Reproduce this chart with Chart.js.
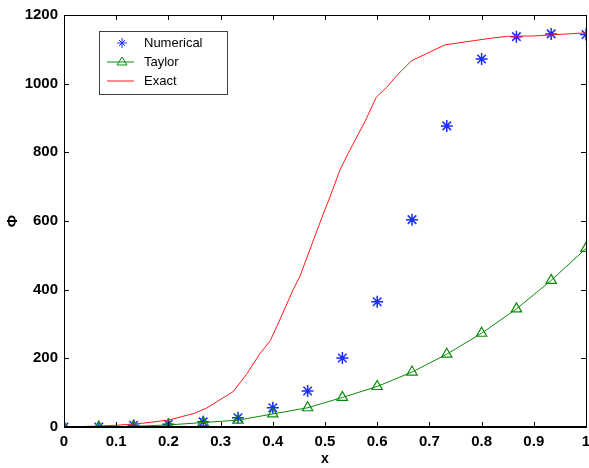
<!DOCTYPE html>
<html>
<head>
<meta charset="utf-8">
<script src="https://cdn.jsdelivr.net/npm/chart.js@4/dist/chart.umd.min.js"></script>
<style>
  html, body { margin: 0; padding: 0; background: #fff; }
  #wrap { width: 589px; height: 468px; }
</style>
</head>
<body>
<div id="wrap"><canvas id="chart" width="589" height="468"></canvas></div>
<script>
// Datos
const gridX = [0, 0.0667, 0.1333, 0.2, 0.2667, 0.3333, 0.4, 0.4667, 0.5333, 0.6, 0.6667, 0.7333, 0.8, 0.8667, 0.9333, 1.0];
const numerical = [0, 0, 5, 8, 15, 27, 56, 105, 201, 365, 604, 877, 1072, 1137, 1145, 1143];
const taylor = [0, 0, 2, 6, 13, 20, 38, 56, 86, 118, 160, 212, 273, 344, 427, 520];

const exactX = [0, 0.05, 0.1, 0.15, 0.2, 0.25, 0.273, 0.324, 0.35, 0.375, 0.395, 0.414, 0.439, 0.452, 0.479, 0.494, 0.51, 0.529, 0.545, 0.577, 0.598, 0.618, 0.637, 0.666, 0.695, 0.73, 0.784, 0.816, 0.85, 0.9, 1.0];
const exact = [0, 2, 5, 11, 20, 40, 55, 103, 154, 213, 251, 314, 400, 439, 549, 610, 672, 750, 799, 891, 960, 989, 1023, 1067, 1088, 1113, 1125, 1132, 1138, 1139, 1148];

const xTicks = [0, 0.1, 0.2, 0.3, 0.4, 0.5, 0.6, 0.7, 0.8, 0.9, 1];
const yTicks = [0, 200, 400, 600, 800, 1000, 1200];

const FONT = '"Liberation Sans", Arial, sans-serif';
const BLUE = '#1a2cff';
const GREEN = '#0a8a0a';
const RED = '#ff1a1a';

function toPoints(xs, ys) {
  return xs.map((x, i) => ({ x: x, y: ys[i] }));
}

// Marco con marcas hacia dentro en los cuatro lados
const boxTicks = {
  id: 'boxTicks',
  afterDraw(chart) {
    const ctx = chart.ctx;
    const a = chart.chartArea;
    const sx = chart.scales.x, sy = chart.scales.y;
    ctx.save();
    ctx.strokeStyle = '#000';
    ctx.lineWidth = 1;
    ctx.strokeRect(a.left + 0.5, a.top + 0.5, a.right - a.left, a.bottom - a.top);
    ctx.lineWidth = 2;
    ctx.beginPath();
    ctx.moveTo(a.left, a.bottom);
    ctx.lineTo(a.right + 1, a.bottom);
    ctx.stroke();
    ctx.lineWidth = 1;
    ctx.beginPath();
    xTicks.forEach(v => {
      const px = Math.round(sx.getPixelForValue(v)) + 0.5;
      ctx.moveTo(px, a.bottom);
      ctx.lineTo(px, a.bottom - 5);
      ctx.moveTo(px, a.top);
      ctx.lineTo(px, a.top + 5);
    });
    yTicks.forEach(v => {
      const py = Math.round(sy.getPixelForValue(v)) + 0.5;
      ctx.moveTo(a.left, py);
      ctx.lineTo(a.left + 5, py);
      ctx.moveTo(a.right, py);
      ctx.lineTo(a.right - 5, py);
    });
    ctx.stroke();
    ctx.restore();
  }
};

// Leyenda dibujada dentro del area
const boxLegend = {
  id: 'boxLegend',
  afterDraw(chart) {
    const ctx = chart.ctx;
    const x0 = 99, y0 = 31, w = 128, h = 63;
    ctx.save();
    ctx.fillStyle = '#fff';
    ctx.fillRect(x0, y0, w, h);
    ctx.strokeStyle = '#404040';
    ctx.lineWidth = 1;
    ctx.strokeRect(x0 + 0.5, y0 + 0.5, w, h);

    const rows = [
      { label: 'Numerical', y: 43 },
      { label: 'Taylor', y: 62 },
      { label: 'Exact', y: 81 }
    ];
    // Numerical: estrella
    ctx.strokeStyle = BLUE;
    ctx.lineWidth = 1;
    ctx.beginPath();
    const cx = 122;
    let cy = rows[0].y;
    ctx.moveTo(cx - 5, cy); ctx.lineTo(cx + 5, cy);
    ctx.moveTo(cx, cy - 5); ctx.lineTo(cx, cy + 5);
    ctx.moveTo(cx - 3, cy - 3); ctx.lineTo(cx + 3, cy + 3);
    ctx.moveTo(cx - 3, cy + 3); ctx.lineTo(cx + 3, cy - 3);
    ctx.stroke();
    // Taylor: linea con triangulo
    cy = rows[1].y;
    ctx.strokeStyle = GREEN;
    ctx.beginPath();
    ctx.moveTo(107, cy); ctx.lineTo(134, cy);
    ctx.moveTo(cx, cy - 5); ctx.lineTo(cx + 5, cy + 3); ctx.lineTo(cx - 5, cy + 3); ctx.closePath();
    ctx.stroke();
    // Exact: linea roja
    cy = rows[2].y;
    ctx.strokeStyle = RED;
    ctx.beginPath();
    ctx.moveTo(107, cy); ctx.lineTo(134, cy);
    ctx.stroke();

    ctx.fillStyle = '#000';
    ctx.font = '13px ' + FONT;
    ctx.textBaseline = 'middle';
    rows.forEach(r => ctx.fillText(r.label, 144, r.y));
    ctx.restore();
  }
};

new Chart(document.getElementById('chart'), {
  type: 'scatter',
  data: {
    datasets: [
      {
        label: 'Exact',
        data: toPoints(exactX, exact),
        showLine: true,
        borderColor: RED,
        borderWidth: 1,
        pointRadius: 0,
        tension: 0
      },
      {
        label: 'Taylor',
        data: toPoints(gridX, taylor),
        showLine: true,
        borderColor: GREEN,
        borderWidth: 1,
        pointStyle: 'triangle',
        pointRadius: 6,
        pointBackgroundColor: 'rgba(0,0,0,0)',
        pointBorderColor: GREEN,
        pointBorderWidth: 1.2
      },
      {
        label: 'Numerical',
        data: toPoints(gridX, numerical),
        showLine: false,
        pointStyle: 'star',
        pointRadius: 6,
        pointBorderColor: BLUE,
        pointBackgroundColor: BLUE,
        pointBorderWidth: 1.5
      }
    ]
  },
  options: {
    responsive: false,
    animation: false,
    layout: { autoPadding: false, padding: { top: 15, right: 3, left: 0, bottom: 0 } },
    plugins: {
      legend: { display: false },
      tooltip: { enabled: false }
    },
    scales: {
      x: {
        type: 'linear',
        min: 0,
        max: 1,
        afterFit: s => { s.height = 41; s.paddingLeft = 0; s.paddingRight = 0; },
        afterBuildTicks: s => { s.ticks = xTicks.map(v => ({ value: v })); },
        grid: { display: false, drawTicks: false },
        border: { display: false },
        ticks: {
          padding: 6,
          color: '#000',
          font: { family: FONT, size: 15, weight: 'bold' },
          callback: v => (v === 0 || v === 1) ? String(v) : v.toFixed(1)
        },
        title: {
          display: true,
          text: 'x',
          color: '#000',
          padding: { top: 0, bottom: 0 },
          font: { family: FONT, size: 14, weight: 'bold' }
        }
      },
      y: {
        type: 'linear',
        min: 0,
        max: 1200,
        afterFit: s => { s.width = 64; s.paddingTop = 0; s.paddingBottom = 0; },
        afterBuildTicks: s => { s.ticks = yTicks.map(v => ({ value: v })); },
        grid: { display: false, drawTicks: false },
        border: { display: false },
        ticks: {
          padding: 6,
          color: '#000',
          font: { family: FONT, size: 15, weight: 'bold' },
          callback: v => String(v)
        },
        title: {
          display: true,
          text: 'Φ',
          color: '#000',
          padding: { top: 4, bottom: 0 },
          font: { family: FONT, size: 15, weight: 'bold' }
        }
      }
    }
  },
  plugins: [boxTicks, boxLegend]
});
</script>
</body>
</html>
